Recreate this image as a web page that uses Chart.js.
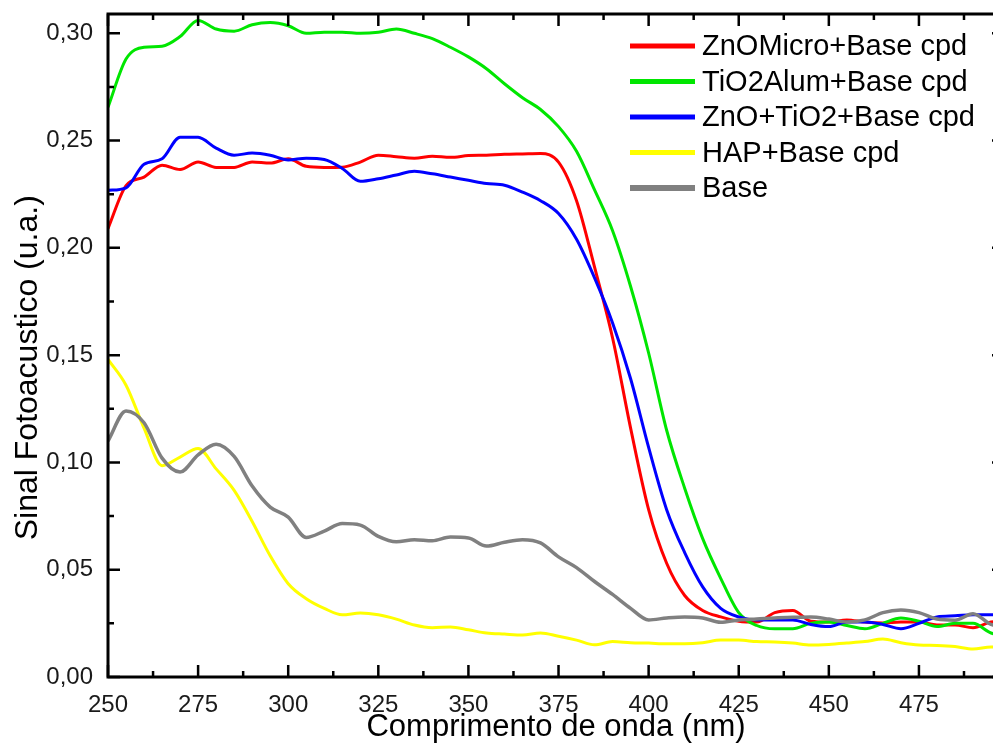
<!DOCTYPE html>
<html>
<head>
<meta charset="utf-8">
<title>Sinal Fotoacustico</title>
<script src="https://cdn.jsdelivr.net/npm/chart.js@4.4.0/dist/chart.umd.min.js"></script>
<style>
    html, body { margin: 0; padding: 0; background: #fff; overflow: hidden; }
    #wrap { width: 1006px; height: 743px; position: relative; }
</style>
</head>
<body>
<div id="wrap"><canvas id="spectra_chart"></canvas></div>
<script>
// wavelength (nm)
const wavelengths = [250,255,260,265,270,275,280,285,290,295,
    300,305,310,315,320,325,330,335,340,345,
    350,355,360,365,370,375,380,385,390,395,
    400,405,410,415,420,425,430,435,440,445,
    450,455,460,465,470,475,480,485,490,495,500];

const znoMicro = [0.209,0.229,0.233,0.2385,0.2365,0.240,0.2375,0.2375,0.240,0.2395,
    0.2415,0.238,0.2375,0.2376,0.240,0.2432,0.2425,0.2418,0.2427,0.2422,
    0.243,0.2432,0.2436,0.2438,0.244,0.240,0.222,0.191,0.158,0.116,
    0.078,0.053,0.038,0.031,0.028,0.026,0.0256,0.030,0.031,0.026,
    0.0256,0.0266,0.0256,0.0252,0.0256,0.0256,0.0242,0.0242,0.023,0.0256,0.026];

const tio2Alum = [0.2655,0.288,0.2935,0.294,0.2985,0.306,0.302,0.301,0.304,0.305,
    0.3035,0.300,0.3005,0.3005,0.300,0.3005,0.302,0.300,0.2975,0.2935,
    0.289,0.2835,0.2765,0.270,0.2645,0.2565,0.245,0.227,0.208,0.182,
    0.151,0.115,0.088,0.0645,0.046,0.030,0.024,0.0225,0.0225,0.025,
    0.0256,0.024,0.0225,0.025,0.0275,0.026,0.0235,0.025,0.025,0.0205,0.019];

const znoTio2 = [0.2268,0.228,0.239,0.2415,0.2516,0.2515,0.2465,0.2432,0.2442,0.2432,
    0.241,0.2418,0.2412,0.237,0.231,0.2322,0.234,0.2357,0.2345,0.233,
    0.2315,0.230,0.2292,0.226,0.222,0.216,0.204,0.186,0.165,0.139,
    0.107,0.078,0.058,0.042,0.032,0.028,0.0266,0.0266,0.0266,0.0245,
    0.0235,0.0256,0.0256,0.0245,0.0225,0.025,0.028,0.0285,0.029,0.029,0.029];

const hapBase = [0.148,0.136,0.116,0.0985,0.1025,0.1065,0.097,0.087,0.0725,0.0565,
    0.0435,0.0365,0.032,0.029,0.0298,0.029,0.027,0.0242,0.023,0.0233,
    0.022,0.0205,0.020,0.0196,0.0205,0.019,0.0172,0.015,0.0165,0.016,
    0.0158,0.0155,0.0155,0.016,0.0172,0.0172,0.0165,0.0163,0.0158,0.0149,
    0.0152,0.0158,0.0165,0.0177,0.016,0.0149,0.0147,0.0142,0.013,0.014,0.014];

const baseOnly = [0.110,0.124,0.1185,0.102,0.0955,0.1035,0.1085,0.1028,0.089,0.0792,
    0.0745,0.065,0.068,0.0715,0.0708,0.0655,0.063,0.064,0.0635,0.0652,
    0.0648,0.061,0.0628,0.064,0.0625,0.056,0.051,0.0445,0.0385,0.032,
    0.0266,0.0275,0.028,0.0275,0.0255,0.0266,0.027,0.0275,0.0278,0.028,
    0.027,0.0256,0.0266,0.030,0.0312,0.030,0.027,0.0265,0.0295,0.0245,0.023];

const seriesNames = ['ZnOMicro+Base cpd','TiO2Alum+Base cpd','ZnO+TiO2+Base cpd','HAP+Base cpd','Base'];

// tick marks
const xMajorTicks = [250,275,300,325,350,375,400,425,450,475,500];
const xMinorTicks = [262.5,287.5,312.5,337.5,362.5,387.5,412.5,437.5,462.5,487.5];
const yMajorTicks = [0,0.05,0.10,0.15,0.20,0.25,0.30];
const yMinorTicks = [0.025,0.075,0.125,0.175,0.225,0.275];

function toPoints(vals) {
    return wavelengths.map(function (w, i) { return {x: w, y: vals[i]}; });
}

function makeSet(label, vals, color, width, order) {
    return {
        label: label,
        data: toPoints(vals),
        borderColor: color,
        backgroundColor: color,
        borderWidth: width,
        pointRadius: 0,
        cubicInterpolationMode: 'monotone',
        fill: false,
        order: order
    };
}

// frame with inward ticks + legend inside the plot
const frameAndLegend = {
    id: 'frameAndLegend',
    afterDraw(chart) {
        const ctx = chart.ctx;
        const a = chart.chartArea;
        const x = chart.scales.x, y = chart.scales.y;
        ctx.save();
        ctx.strokeStyle = '#000';
        ctx.lineWidth = 2.5;
        ctx.beginPath();
        function xt(vals, len) {
            vals.forEach(function (v) {
                const px = x.getPixelForValue(v);
                ctx.moveTo(px, a.bottom); ctx.lineTo(px, a.bottom - len);
                ctx.moveTo(px, a.top); ctx.lineTo(px, a.top + len);
            });
        }
        function yt(vals, len) {
            vals.forEach(function (v) {
                const py = y.getPixelForValue(v);
                ctx.moveTo(a.left, py); ctx.lineTo(a.left + len, py);
                ctx.moveTo(a.right, py); ctx.lineTo(a.right - len, py);
            });
        }
        xt(xMajorTicks, 12); xt(xMinorTicks, 6);
        yt(yMajorTicks, 12); yt(yMinorTicks, 6);
        ctx.stroke();
        ctx.lineWidth = 3;
        ctx.strokeRect(a.left, a.top, a.right - a.left, a.bottom - a.top);

        // legend
        ctx.font = '29px "Liberation Sans", Arial, sans-serif';
        ctx.fillStyle = '#000';
        ctx.textBaseline = 'middle';
        ctx.textAlign = 'left';
        chart.data.datasets.forEach(function (ds, i) {
            const ly = 46 + i * 35.5;
            ctx.strokeStyle = ds.borderColor;
            ctx.lineWidth = i === 4 ? 6 : 5;
            ctx.beginPath();
            ctx.moveTo(630, ly); ctx.lineTo(695, ly);
            ctx.stroke();
            ctx.fillText(ds.label, 702, ly + 1);
        });
        ctx.restore();
    }
};

let ctx = document.getElementById("spectra_chart").getContext('2d');
const spectraChart = new Chart(ctx, {
    type: 'line',
    data: {
        datasets: [
            makeSet(seriesNames[0], znoMicro, '#ff0000', 3, 5),
            makeSet(seriesNames[1], tio2Alum, '#00e600', 3, 4),
            makeSet(seriesNames[2], znoTio2, '#0000ff', 3, 3),
            makeSet(seriesNames[3], hapBase, '#ffff00', 3, 2),
            makeSet(seriesNames[4], baseOnly, '#808080', 3.5, 1)
        ]
    },
    options: {
        responsive: true,
        maintainAspectRatio: false,
        animation: false,
        layout: { padding: { top: 14, right: 2, left: 0, bottom: 0 } },
        plugins: {
            legend: { display: false },
            tooltip: { enabled: false }
        },
        scales: {
            x: {
                type: 'linear',
                min: 250,
                max: 498.6,
                grid: { display: false, drawTicks: false },
                border: { display: false },
                afterBuildTicks: function (scale) {
                    scale.ticks = xMajorTicks.filter(function (v) { return v <= 498.6; })
                        .map(function (v) { return {value: v}; });
                },
                afterFit: function (scale) {
                    scale.height = 66;
                    scale.paddingLeft = 0;
                    scale.paddingRight = 0;
                },
                ticks: {
                    padding: 14,
                    color: '#1a1a1a',
                    font: { family: '"Liberation Sans", Arial, sans-serif', size: 24 },
                    maxRotation: 0,
                    callback: function (v) { return String(v); }
                },
                title: {
                    display: true,
                    text: 'Comprimento de onda (nm)',
                    color: '#000',
                    font: { family: '"Liberation Sans", Arial, sans-serif', size: 31 },
                    padding: { top: 0, bottom: -3 }
                }
            },
            y: {
                type: 'linear',
                min: 0,
                max: 0.309,
                grid: { display: false, drawTicks: false },
                border: { display: false },
                afterBuildTicks: function (scale) {
                    scale.ticks = yMajorTicks.map(function (v) { return {value: v}; });
                },
                afterFit: function (scale) {
                    scale.width = 108;
                    scale.paddingTop = 0;
                    scale.paddingBottom = 0;
                },
                ticks: {
                    padding: 15,
                    color: '#1a1a1a',
                    font: { family: '"Liberation Sans", Arial, sans-serif', size: 24 },
                    callback: function (v) { return v.toFixed(2).replace('.', ','); }
                },
                title: {
                    display: true,
                    text: 'Sinal Fotoacustico (u.a.)     ',
                    color: '#000',
                    font: { family: '"Liberation Sans", Arial, sans-serif', size: 32 },
                    padding: { top: 9, bottom: 0 }
                }
            }
        }
    },
    plugins: [frameAndLegend]
});
</script>
</body>
</html>
